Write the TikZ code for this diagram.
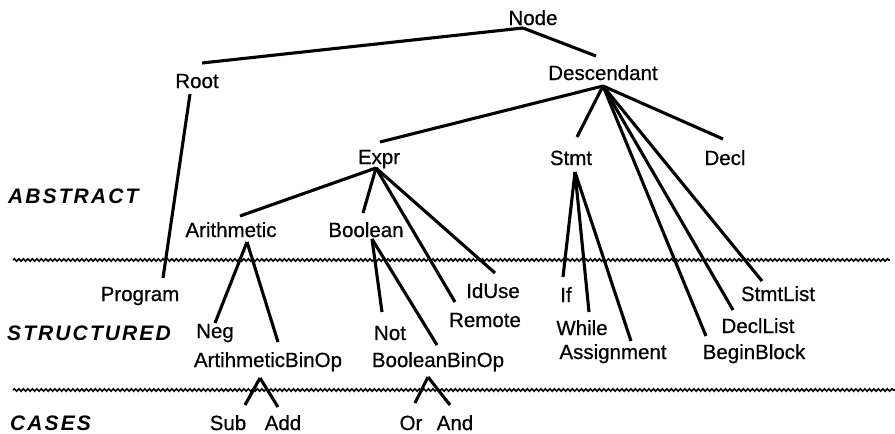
\documentclass[tikz,border=0pt]{standalone}
\usepackage{fontspec}
\setmainfont{Liberation Sans}[FakeBold=0.6]
\usetikzlibrary{decorations.pathmorphing}
\newfontfamily\levelfont[LetterSpace=10]{Liberation Sans Bold Italic}

\tikzset{
  cls/.style={inner sep=0pt, anchor=base, font=\fontsize{20.5}{24}\selectfont},
  level/.style={inner sep=0pt, anchor=base west, font=\levelfont\fontsize{21}{24}\selectfont},
  edge/.style={line width=3.1pt},
  boundary/.style={line width=1.6pt, decorate,
    decoration={snake, segment length=4.5pt, amplitude=1.2pt}}
}

\begin{document}
\begin{tikzpicture}[x=1pt, y=-1pt]
\useasboundingbox (0,0) rectangle (895,434);

% layer boundaries
\coordinate (b1l) at (13,260);  \coordinate (b1r) at (890,260);
\coordinate (b2l) at (13,390);  \coordinate (b2r) at (895,390);
\draw[boundary] (b1l) -- (b1r);
\draw[boundary] (b2l) -- (b2r);

% layer names
\node[level] (labs) at (8,203)  {ABSTRACT};
\node[level] (lstr) at (7,340)  {STRUCTURED};
\node[level] (lcas) at (10,430) {CASES};

% classes
\node[cls] (node)   at (533,25)  {Node};
\node[cls] (root)   at (197,88)  {Root};
\node[cls] (desc)   at (603,80)  {Descendant};
\node[cls] (expr)   at (379,164) {Expr};
\node[cls] (stmt)   at (571,165) {Stmt};
\node[cls] (decl)   at (725,165) {Decl};
\node[cls] (arith)  at (231,237) {Arithmetic};
\node[cls] (bool)   at (366,237) {Boolean};
\node[cls] (prog)   at (140,301) {Program};
\node[cls] (iduse)  at (493,298) {IdUse};
\node[cls] (remote) at (485,327) {Remote};
\node[cls] (if)     at (566,302) {If};
\node[cls] (slist)  at (778,301) {StmtList};
\node[cls] (neg)    at (215,338) {Neg};
\node[cls] (not)    at (390,340) {Not};
\node[cls] (while)  at (582,335) {While};
\node[cls] (dlist)  at (758,333) {DeclList};
\node[cls] (abin)   at (268,367) {ArtihmeticBinOp};
\node[cls] (bbin)   at (438,367) {BooleanBinOp};
\node[cls] (assign) at (613,359) {Assignment};
\node[cls] (block)  at (754,359) {BeginBlock};
\node[cls] (sub)    at (228,430) {Sub};
\node[cls] (add)    at (283,430) {Add};
\node[cls] (or)     at (411,430) {Or};
\node[cls] (and)    at (455,430) {And};

% fan-out points below parents
\coordinate (node-v)  at ([shift={(-10,3)}]node.base);
\coordinate (root-v)  at ([shift={(-7,6)}]root.base);
\coordinate (desc-v)  at ([shift={(0,6)}]desc.base);
\coordinate (expr-v)  at ([shift={(-3,4)}]expr.base);
\coordinate (stmt-v)  at ([shift={(4,7)}]stmt.base);
\coordinate (arith-v) at ([shift={(16,5)}]arith.base);
\coordinate (bool-v)  at ([shift={(6,2)}]bool.base);
\coordinate (abin-v)  at ([shift={(-8,11)}]abin.base);
\coordinate (bbin-v)  at ([shift={(-10,10)}]bbin.base);

% entry points above children
\coordinate (root-t)   at ([shift={(5,-25)}]root.base);
\coordinate (desc-t)   at ([shift={(-7,-24)}]desc.base);
\coordinate (expr-t)   at ([shift={(1,-22)}]expr.base);
\coordinate (stmt-t)   at ([shift={(6,-28)}]stmt.base);
\coordinate (decl-t)   at ([shift={(-2,-26)}]decl.base);
\coordinate (arith-t)  at ([shift={(9,-21)}]arith.base);
\coordinate (bool-t)   at ([shift={(-3,-24)}]bool.base);
\coordinate (prog-t)   at ([shift={(23,-23)}]prog.base);
\coordinate (iduse-t)  at ([shift={(2,-25)}]iduse.base);
\coordinate (remote-t) at ([shift={(-30,-25)}]remote.base);
\coordinate (if-t)     at ([shift={(-3,-25)}]if.base);
\coordinate (slist-t)  at ([shift={(-16,-20)}]slist.base);
\coordinate (neg-t)    at ([shift={(0,-15)}]neg.base);
\coordinate (not-t)    at ([shift={(-8,-28)}]not.base);
\coordinate (while-t)  at ([shift={(7,-23)}]while.base);
\coordinate (dlist-t)  at ([shift={(-25,-23)}]dlist.base);
\coordinate (abin-t)   at ([shift={(10,-25)}]abin.base);
\coordinate (bbin-t)   at ([shift={(-1,-22)}]bbin.base);
\coordinate (assign-t) at ([shift={(18,-18)}]assign.base);
\coordinate (block-t)  at ([shift={(-48,-23)}]block.base);
\coordinate (sub-t)    at ([shift={(17,-25)}]sub.base);
\coordinate (add-t)    at ([shift={(-5,-23)}]add.base);
\coordinate (or-t)     at ([shift={(4,-27)}]or.base);
\coordinate (and-t)    at ([shift={(-5,-25)}]and.base);

% inheritance edges
\draw[edge] (node-v) -- (root-t);
\draw[edge] (node-v) -- (desc-t);
\draw[edge] (root-v) -- (prog-t);
\foreach \c in {expr,stmt,decl,block,dlist,slist}
  \draw[edge] (desc-v) -- (\c-t);
\foreach \c in {arith,bool,remote,iduse}
  \draw[edge] (expr-v) -- (\c-t);
\foreach \c in {if,while,assign}
  \draw[edge] (stmt-v) -- (\c-t);
\foreach \c in {neg,abin}
  \draw[edge] (arith-v) -- (\c-t);
\foreach \c in {not,bbin}
  \draw[edge] (bool-v) -- (\c-t);
\foreach \c in {sub,add}
  \draw[edge] (abin-v) -- (\c-t);
\foreach \c in {or,and}
  \draw[edge] (bbin-v) -- (\c-t);
\end{tikzpicture}
\end{document}
